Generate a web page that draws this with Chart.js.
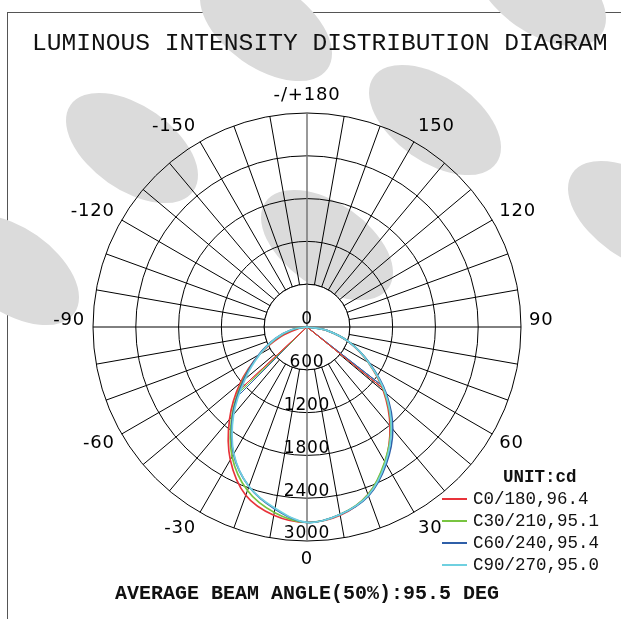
<!DOCTYPE html>
<html>
<head>
<meta charset="utf-8">
<script src="https://cdn.jsdelivr.net/npm/chart.js@4.4.1/dist/chart.umd.min.js"></script>
<style>
  html, body { margin: 0; padding: 0; background: #fff; }
  body { width: 621px; height: 619px; position: relative; overflow: hidden; font-family: "Liberation Mono", monospace; color: #111; }
  #frame { position: absolute; left: 7px; top: 12px; width: 700px; height: 700px; border-left: 1px solid #555; border-top: 1px solid #555; }
  .blob { position: absolute; width: 150px; height: 84px; border-radius: 50%; background: #dbdbdb; transform: rotate(35deg); }
  #chart { position: absolute; left: 0; top: 0; }
  #title { position: absolute; left: 32px; top: 29px; font-size: 24.6px; line-height: 30px; white-space: pre; }
  #footer { position: absolute; left: 115px; top: 582px; font-size: 20px; line-height: 24px; font-weight: bold; white-space: pre; }
  #legend { position: absolute; left: 442px; top: 466px; width: 180px; height: 120px; }
  #legend .head { position: absolute; left: 61px; top: 0; font-size: 17.5px; line-height: 22px; font-weight: bold; }
  #legend .row { position: absolute; left: 0; height: 22px; width: 180px; }
  #legend .swatch { position: absolute; left: 0; top: 10px; width: 25px; height: 2px; }
  #legend .txt { position: absolute; left: 31px; top: 0; font-size: 17.5px; line-height: 22px; white-space: pre; }
</style>
</head>
<body>
<div id="frame"></div>
<div class="blob" style="left:191px; top:-16px;"></div>
<div class="blob" style="left:465px; top:-51px;"></div>
<div class="blob" style="left:-62px; top:228px;"></div>
<div class="blob" style="left:57px; top:106px;"></div>
<div class="blob" style="left:360px; top:78px;"></div>
<div class="blob" style="left:559px; top:174px;"></div>
<div class="blob" style="left:252px; top:203px;"></div>
<canvas id="chart" width="621" height="619"></canvas>
<div id="title">LUMINOUS INTENSITY DISTRIBUTION DIAGRAM</div>
<div id="legend"><div class="head">UNIT:cd</div></div>
<div id="footer"></div>
<script>
// gamma angles (deg), 0 = straight down, + to the right
const gammas = [-90, -80, -70, -60, -50, -40, -30, -20, -10, 0, 10, 20, 30, 40, 50, 60, 70, 80, 90];
// intensity in cd
const c0_180  = [0, 120, 390, 770, 1220, 1690, 2150, 2510, 2680, 2740, 2680, 2500, 2190, 1810, 1400, 990, 630, 290, 0];
const c30_210 = [0, 200, 450, 770, 1180, 1640, 2100, 2440, 2640, 2740, 2670, 2500, 2180, 1830, 1420, 1000, 640, 290, 0];
const c60_240 = [0, 220, 470, 780, 1160, 1620, 2060, 2380, 2590, 2740, 2670, 2520, 2220, 1870, 1450, 1010, 640, 290, 0];
const c90_270 = [0, 220, 470, 760, 1130, 1600, 2050, 2380, 2580, 2740, 2670, 2510, 2200, 1840, 1430, 1000, 640, 290, 0];
const seriesNames = ["C0/180", "C30/210", "C60/240", "C90/270"];
const beamAngles = [96.4, 95.1, 95.4, 95.0];
const seriesColors = ["#e8333a", "#78c440", "#2f5fa8", "#6fd0e0"];
const intensityTicks = [0, 600, 1200, 1800, 2400, 3000];
const angleTicks = [180, 150, 120, 90, 60, 30, 0, -30, -60, -90, -120, -150];

const curves = [c0_180, c30_210, c60_240, c90_270];

// radar index k runs clockwise from the top, one label per degree
const labels = Array.from({ length: 360 }, (_, k) => 180 - k);
const idx = g => ((180 - g) % 360 + 360) % 360;

function ring(vals) {
  const r = new Array(360).fill(null);
  gammas.forEach((g, i) => { r[idx(g)] = vals[i]; });
  return r;
}

// line from the centre to the 50% point on each side
function beamRing(vals) {
  const r = new Array(360).fill(null);
  const i0 = gammas.indexOf(0);
  const half = vals[i0] / 2;
  [-1, 1].forEach(s => {
    for (let j = 0; i0 + s * (j + 1) >= 0 && i0 + s * (j + 1) < gammas.length; j++) {
      const a = vals[i0 + s * j], b = vals[i0 + s * (j + 1)];
      if (a >= half && b < half) {
        const g = Math.round(gammas[i0 + s * j] + s * 10 * (a - half) / (a - b));
        const k = idx(g);
        r[k] = half; r[(k + 359) % 360] = 0; r[(k + 1) % 360] = 0;
        break;
      }
    }
  });
  return r;
}

const datasets = [];
curves.forEach((vals, i) => {
  datasets.push({
    label: seriesNames[i], data: ring(vals), borderColor: seriesColors[i], borderWidth: 1.7,
    fill: false, pointRadius: 0, tension: 0.35, spanGaps: true, order: 4 - i
  });
});
curves.forEach((vals, i) => {
  datasets.push({
    label: seriesNames[i] + " beam", data: beamRing(vals), borderColor: seriesColors[i], borderWidth: 1,
    fill: false, pointRadius: 0, tension: 0, spanGaps: true, order: 10 + i
  });
});

const polarDecor = {
  id: "polarDecor",
  beforeDatasetsDraw(chart) {
    const s = chart.scales.r, ctx = chart.ctx;
    const rin = s.getDistanceFromCenterForValue(intensityTicks[1]);
    ctx.save();
    ctx.beginPath();
    ctx.arc(s.xCenter, s.yCenter, rin, 0, Math.PI * 2);
    ctx.fillStyle = "#fff";
    ctx.fill();
    ctx.lineWidth = 1;
    ctx.strokeStyle = "#000";
    ctx.stroke();
    [[90, 270, "#000", 1], [0, 180, "#777", 1.5]].forEach(([a, b, col, w]) => {
      const p = s.getPointPosition(a, rin), q = s.getPointPosition(b, rin);
      ctx.beginPath();
      ctx.moveTo(p.x, p.y);
      ctx.lineTo(q.x, q.y);
      ctx.strokeStyle = col;
      ctx.lineWidth = w;
      ctx.stroke();
    });
    ctx.restore();
  },
  afterDatasetsDraw(chart) {
    const s = chart.scales.r, ctx = chart.ctx;
    ctx.save();
    ctx.fillStyle = "#000";
    ctx.textBaseline = "middle";
    ctx.textAlign = "center";
    ctx.font = '17px "DejaVu Sans"';
    if ("letterSpacing" in ctx) ctx.letterSpacing = "0.8px";
    intensityTicks.forEach(v => {
      const d = s.getDistanceFromCenterForValue(v);
      ctx.fillText(String(v), s.xCenter, s.yCenter + d - 7);
    });
    ctx.font = '18px "DejaVu Sans"';
    angleTicks.forEach(g => {
      const k = idx(g);
      const px = s.getPointPosition(k, s.drawingArea + 8);
      const py = s.getPointPosition(k, s.drawingArea + 18);
      const dx = px.x - s.xCenter;
      ctx.textAlign = dx > 1 ? "left" : dx < -1 ? "right" : "center";
      let y = py.y;
      if (Math.abs(py.y - s.yCenter) < 1) y -= 7;
      ctx.fillText(g === 180 ? "-/+180" : String(g), px.x, y);
    });
    ctx.restore();
  }
};

new Chart(document.getElementById("chart"), {
  type: "radar",
  data: { labels: labels, datasets: datasets },
  options: {
    responsive: false,
    animation: false,
    layout: { padding: { left: 93, right: 100, top: 113, bottom: 78 } },
    plugins: { legend: { display: false }, tooltip: { enabled: false } },
    elements: { point: { radius: 0, hitRadius: 0 } },
    scales: {
      r: {
        min: intensityTicks[0],
        max: intensityTicks[intensityTicks.length - 1],
        ticks: { display: false, stepSize: intensityTicks[1] - intensityTicks[0] },
        pointLabels: { display: false },
        grid: { circular: true, color: "#000", lineWidth: 1 },
        angleLines: {
          color: c => (c.index % 180 === 0 ? "#777" : "#000"),
          lineWidth: c => (c.index % 180 === 0 ? 1.5 : c.index % 10 === 0 ? 1 : 0)
        }
      }
    }
  },
  plugins: [polarDecor]
});

// legend and footer
const legend = document.getElementById("legend");
seriesNames.forEach((n, i) => {
  const row = document.createElement("div");
  row.className = "row";
  row.style.top = (22 + 22 * i) + "px";
  const sw = document.createElement("div");
  sw.className = "swatch";
  sw.style.background = seriesColors[i];
  const t = document.createElement("div");
  t.className = "txt";
  t.textContent = n + "," + beamAngles[i].toFixed(1);
  row.appendChild(sw);
  row.appendChild(t);
  legend.appendChild(row);
});
const avgBeam = Math.round(beamAngles.reduce((a, b) => a + b, 0) / beamAngles.length * 10) / 10;
document.getElementById("footer").textContent = "AVERAGE BEAM ANGLE(50%):" + avgBeam.toFixed(1) + " DEG";
</script>
</body>
</html>
